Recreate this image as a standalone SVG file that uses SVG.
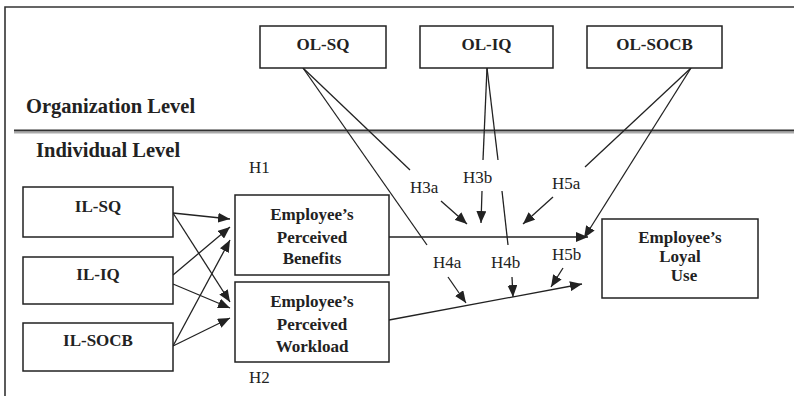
<svg xmlns="http://www.w3.org/2000/svg" width="794" height="396" viewBox="0 0 794 396">
<style>
.box{fill:#fff;stroke:#222;stroke-width:1.5}
.bt{font-family:"Liberation Serif","Times New Roman",serif;font-weight:bold;font-size:17px;fill:#222;text-anchor:middle}
.lvl{font-family:"Liberation Serif","Times New Roman",serif;font-weight:bold;font-size:20.5px;fill:#222}
.h{font-family:"Liberation Serif","Times New Roman",serif;font-size:17px;fill:#222}
.ln{stroke:#222;stroke-width:1.3;fill:none}
.ar{stroke:#222;stroke-width:1.3;fill:none;marker-end:url(#ah)}
</style>
<defs>
<marker id="ah" markerUnits="userSpaceOnUse" markerWidth="12" markerHeight="10" refX="12" refY="5" orient="auto">
<path d="M0,0 L12,5 L0,10 z" fill="#222"/>
</marker>
</defs>
<rect width="794" height="396" fill="#fff"/>
<g id="frame">
<path d="M5,396 V7 H794" fill="none" stroke="#333" stroke-width="1.6"/>
<line x1="14" y1="130.5" x2="794" y2="130.5" stroke="#333" stroke-width="2.2"/>
<line x1="14" y1="132.8" x2="794" y2="132.8" stroke="#aaa" stroke-width="1.6"/>
<text class="lvl" x="26" y="113">Organization Level</text>
<text class="lvl" x="36" y="157">Individual Level</text>
</g>
<g id="connectors">
<line class="ar" x1="173" y1="213" x2="230" y2="219"/>
<line class="ar" x1="173" y1="213" x2="230" y2="302"/>
<line class="ar" x1="173" y1="275" x2="230" y2="227"/>
<line class="ar" x1="173" y1="284" x2="230" y2="308"/>
<line class="ar" x1="173" y1="346" x2="230" y2="240"/>
<line class="ar" x1="173" y1="346" x2="230" y2="318"/>
<line class="ar" x1="389" y1="237" x2="588" y2="237"/>
<line class="ar" x1="389" y1="320" x2="582" y2="284"/>
<line class="ln" x1="303" y1="68" x2="410" y2="170"/>
<line class="ar" x1="441" y1="201" x2="467" y2="224"/>
<line class="ln" x1="303" y1="68" x2="427" y2="245"/>
<line class="ar" x1="448" y1="277" x2="466" y2="303"/>
<line class="ln" x1="487" y1="68" x2="483" y2="160"/>
<line class="ar" x1="482" y1="191" x2="481" y2="223"/>
<line class="ln" x1="487" y1="68" x2="498" y2="160"/>
<line class="ln" x1="502" y1="191" x2="508" y2="245"/>
<line class="ar" x1="512" y1="277" x2="513" y2="297"/>
<line class="ln" x1="691" y1="68" x2="585" y2="167"/>
<line class="ar" x1="553" y1="197" x2="523" y2="224"/>
<line class="ar" x1="691" y1="68" x2="584" y2="238"/>
<line class="ar" x1="563" y1="268" x2="551" y2="287"/>
<text class="h" x="249" y="173">H1</text>
<text class="h" x="249" y="383">H2</text>
<text class="h" x="410" y="193">H3a</text>
<text class="h" x="463" y="183">H3b</text>
<text class="h" x="552" y="189">H5a</text>
<text class="h" x="433" y="268">H4a</text>
<text class="h" x="491" y="268">H4b</text>
<text class="h" x="552" y="260">H5b</text>
</g>
<g id="ol-sq"><rect class="box" x="260" y="26" width="126" height="42"/><text class="bt" x="323" y="50">OL-SQ</text></g>
<g id="ol-iq"><rect class="box" x="420" y="26" width="133" height="42"/><text class="bt" x="486.5" y="50">OL-IQ</text></g>
<g id="ol-socb"><rect class="box" x="587" y="26" width="135" height="42"/><text class="bt" x="654.5" y="50">OL-SOCB</text></g>
<g id="il-sq"><rect class="box" x="23" y="187" width="150" height="50"/><text class="bt" x="98" y="212">IL-SQ</text></g>
<g id="il-iq"><rect class="box" x="23" y="257" width="150" height="47"/><text class="bt" x="98" y="280">IL-IQ</text></g>
<g id="il-socb"><rect class="box" x="23" y="323" width="150" height="48"/><text class="bt" x="98" y="346">IL-SOCB</text></g>
<g id="benefits"><rect class="box" x="235" y="195" width="154" height="80"/>
<text class="bt" x="312" y="220">Employee’s</text><text class="bt" x="312" y="243">Perceived</text><text class="bt" x="312" y="264">Benefits</text></g>
<g id="workload"><rect class="box" x="235" y="282" width="154" height="80"/>
<text class="bt" x="312" y="307">Employee’s</text><text class="bt" x="312" y="330">Perceived</text><text class="bt" x="312" y="352">Workload</text></g>
<g id="loyal-use"><rect class="box" x="602" y="219" width="156" height="79"/>
<text class="bt" x="680" y="243">Employee’s</text><text class="bt" x="680" y="262">Loyal</text><text class="bt" x="684" y="281">Use</text></g>
</svg>
